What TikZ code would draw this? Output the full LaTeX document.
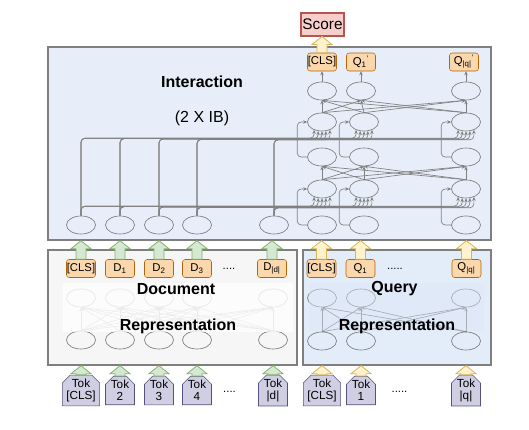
\documentclass[tikz,border=0pt]{standalone}
\usepackage{fontspec}
\setmainfont{Liberation Sans}
\usetikzlibrary{shapes.geometric,shapes.misc,arrows.meta,calc}

\definecolor{intfill}{HTML}{E7EEF9}
\definecolor{qfill}{HTML}{E3ECF9}
\definecolor{qband}{HTML}{DCE7F8}
\definecolor{docfill}{HTML}{F6F6F6}
\definecolor{boxline}{HTML}{7F7F7F}
\definecolor{linegray}{HTML}{808080}
\definecolor{embfill}{HTML}{FAD7AC}
\definecolor{embline}{HTML}{B46504}
\definecolor{scorefill}{HTML}{F8CECC}
\definecolor{scoreline}{HTML}{B85450}
\definecolor{tokfill}{HTML}{D0CEE2}
\definecolor{tokline}{HTML}{56517E}
\definecolor{gfill}{HTML}{D5E8D4}
\definecolor{gline}{HTML}{82B366}
\definecolor{yfill}{HTML}{FFF2CC}
\definecolor{yline}{HTML}{D6B656}

\tikzset{
  panel/.style={rectangle, draw=boxline, line width=1pt, inner sep=0pt},
  neuron/.style={ellipse, draw=linegray, line width=0.5pt, minimum width=21.75pt,
    minimum height=13.5pt, inner sep=0pt},
  emb/.style={rectangle, draw=embline, fill=embfill, rounded corners=2pt,
    minimum width=21.75pt, minimum height=13.5pt, inner sep=0pt,
    font=\fontsize{8.5}{9}\selectfont},
  tok/.style={chamfered rectangle, chamfered rectangle corners={north west,north east},
    chamfered rectangle xsep=3pt, chamfered rectangle ysep=3pt,
    draw=tokline, fill=tokfill, minimum width=21.75pt, minimum height=17.25pt,
    inner sep=0pt, align=center, font=\fontsize{8.8}{9}\selectfont},
  scorebox/.style={rectangle, draw=scoreline, fill=scorefill, line width=0.8pt,
    minimum width=32.25pt, minimum height=17.25pt, inner sep=0pt,
    font=\fontsize{11.5}{13}\selectfont},
  title/.style={font=\bfseries\fontsize{12}{14}\selectfont},
  dots/.style={font=\fontsize{8.5}{9}\selectfont, inner sep=0pt},
  link/.style={draw=linegray, line width=0.5pt, -{Stealth[length=3pt,width=2.6pt]}},
  faintlink/.style={draw=gray!50, line width=0.4pt, -{Stealth[length=3pt,width=2.6pt]}},
  garrow/.style={draw=gline, fill=gfill, line width=0.6pt},
  yarrow/.style={draw=yline, fill=yfill, line width=0.6pt}
}

% block arrow pointing up, from #2 to #3
\newcommand{\blockup}[3]{%
  \draw[#1] let \p1=(#2), \p2=(#3) in
    (\x1-3.75pt,\y1) -- (\x1-3.75pt,\y2-6pt) -- (\x1-7.5pt,\y2-6pt) -- (\x1,\y2)
    -- (\x1+7.5pt,\y2-6pt) -- (\x1+3.75pt,\y2-6pt) -- (\x1+3.75pt,\y1) -- cycle;}

\begin{document}
\begin{tikzpicture}[x=0.75pt,y=-0.75pt]
  \useasboundingbox (0,0) rectangle (529,429);

  % panels
  \node[panel, fill=intfill, minimum width=332.25pt, minimum height=144.75pt] (inter) at (269.5,143.5) {};
  \node[panel, fill=docfill, minimum width=186.75pt, minimum height=86.25pt] (docbox) at (172.5,307.5) {};
  \node[panel, fill=qfill, minimum width=141pt, minimum height=86.25pt] (qbox) at (397,307.5) {};

  \node[title] (intname) at (202,82) {Interaction};
  \node[font=\fontsize{12}{14}\selectfont] (intrep) at (202,118) {(2 X IB)};

  % interaction layer
  \foreach \x [count=\i] in {81,120,159,197,274}
    \node[neuron] (e\i) at (\x,225) {};
  \foreach \x [count=\j] in {322,364,466} {
    \node[neuron] (qe\j) at (\x,225) {};
    \node[neuron] (qd\j) at (\x,189) {};
    \node[neuron] (qc\j) at (\x,157) {};
    \node[neuron] (qb\j) at (\x,122) {};
  }
  \foreach \x [count=\j] in {322,361,466}
    \node[neuron] (qa\j) at (\x,91) {};

  \node[emb] (o1) at (322,62) {[CLS]};
  \node[emb] (o2) at (361,62) {Q\textsubscript{1}\textsuperscript{'}};
  \node[emb] (o3) at (464,62) {Q\textsubscript{|q|}\textsuperscript{'}};
  \node[scorebox] (score) at (322.5,24.5) {Score};

  \foreach \i/\a/\o in {1/-135/-0.8,2/-113/-0.4,3/-90/0,4/-67/0.4,5/-45/0.8} {
    \coordinate (railB\i) at (0,{139+\o});
    \coordinate (railD\i) at (0,{207+\o});
    \foreach \j in {1,2,3} {
      \draw[link, rounded corners=3pt] (e\i.north) |- (railD\i -| qd\j.\a) -- (qd\j.\a);
      \draw[link, rounded corners=3pt] (e\i.north) |- (railB\i -| qb\j.\a) -- (qb\j.\a);
    }
  }
  \foreach \j in {1,2,3} {
    \draw[link, rounded corners=3pt] (qe\j.west) -- ++(-10,0) |- (qd\j.west);
    \draw[link, rounded corners=3pt] (qc\j.west) -- ++(-10,0) |- (qb\j.west);
    \draw[link] (qa\j.north) -- (qa\j.north |- o\j.south);
  }
  \foreach \i in {1,2,3}
    \foreach \j in {1,2,3} {
      \draw[link] (qd\i.north) -- (qc\j.south);
      \draw[link] (qb\i.north) -- (qa\j.south);
    }

  % document representation
  \foreach \x [count=\i] in {81,120,159,197,273} {
    \node[neuron, draw=gray!60] (dr\i) at (\x,298) {};
    \node[neuron] (db\i) at (\x,340) {};
  }
  \foreach \i in {1,...,5}
    \foreach \j in {1,...,5}
      \draw[faintlink] (db\i.north) -- (dr\j.south);
  \fill[white, fill opacity=0.7] (63,283) rectangle (293,332);
  \node[title] (docname) at (176,289) {Document};
  \node[title] (docrep) at (178,326) {Representation};

  % query representation
  \foreach \x [count=\i] in {322,361,466} {
    \node[neuron] (qr\i) at (\x,298) {};
    \node[neuron] (ql\i) at (\x,341) {};
  }
  \foreach \i in {1,2,3}
    \foreach \j in {1,2,3}
      \draw[link] (ql\i.north) -- (qr\j.south);
  \fill[qband, fill opacity=0.45] (309,283) rectangle (484,331);
  \node[title] (qname) at (394.5,289) {Query};
  \node[title] (qrep) at (397,326) {Representation};

  % embeddings
  \node[emb] (dm1) at (81,268.5) {[CLS]};
  \node[emb] (dm2) at (120,268.5) {D\textsubscript{1}};
  \node[emb] (dm3) at (159,268.5) {D\textsubscript{2}};
  \node[emb] (dm4) at (197,268.5) {D\textsubscript{3}};
  \node[dots] (dmdots) at (229,269) {....};
  \node[emb] (dm5) at (272,268.5) {D\textsubscript{|d|}};
  \node[emb] (qm1) at (321.5,268.5) {[CLS]};
  \node[emb] (qm2) at (360.5,268.5) {Q\textsubscript{1}};
  \node[dots] (qmdots) at (395,269) {.....};
  \node[emb] (qm3) at (466.5,268.5) {Q\textsubscript{|q|}};

  % tokens
  \node[tok] (dt1) at (81,390.5) {Tok\\{[CLS]}};
  \node[tok] (dt2) at (120,390.5) {Tok\\2};
  \node[tok] (dt3) at (159,390.5) {Tok\\3};
  \node[tok] (dt4) at (197,390.5) {Tok\\4};
  \node[dots] (dtdots) at (229.5,392) {....};
  \node[tok] (dt5) at (273,390.5) {Tok\\|d|};
  \node[tok] (qt1) at (322,390.5) {Tok\\{[CLS]}};
  \node[tok] (qt2) at (361,390.5) {Tok\\1};
  \node[dots] (qtdots) at (399.5,392) {.....};
  \node[tok] (qt3) at (466,390.5) {Tok\\|q|};

  % block arrows
  \blockup{yarrow}{o1.north}{score.south}
  \foreach \i in {1,...,5} {
    \blockup{garrow}{dm\i.north}{dm\i.north |- inter.south}
    \blockup{garrow}{dt\i.north}{dt\i.north |- docbox.south}
  }
  \foreach \j in {1,2,3} {
    \blockup{yarrow}{qm\j.north}{qm\j.north |- inter.south}
    \blockup{yarrow}{qt\j.north}{qt\j.north |- qbox.south}
  }
\end{tikzpicture}
\end{document}
